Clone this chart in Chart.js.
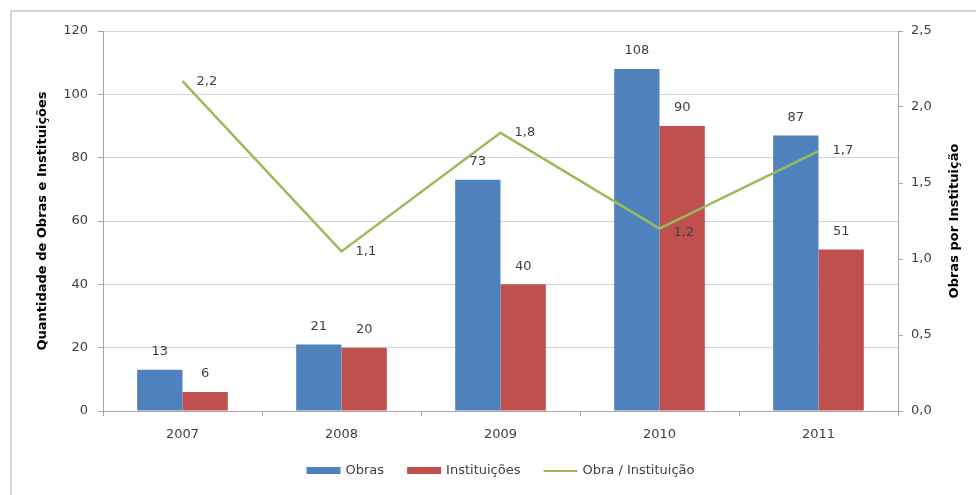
<!DOCTYPE html>
<html><head><meta charset="utf-8">
<script src="https://cdn.jsdelivr.net/npm/chart.js@4/dist/chart.umd.min.js"></script>
<style>html,body{margin:0;padding:0;background:#fff;}#wrap{width:976px;height:495px;position:relative;}</style>
</head><body><div id="wrap"><canvas id="c" width="976" height="495"></canvas></div>
<script>
const categories = ['2007','2008','2009','2010','2011'];
const obras = [13, 21, 73, 108, 87];
const instituicoes = [6, 20, 40, 90, 51];
const obraPorInstituicao = [2.17, 1.05, 1.83, 1.2, 1.71];
const ratioLabels = ['2,2','1,1','1,8','1,2','1,7'];
const leftTicks = [0, 20, 40, 60, 80, 100, 120];
const rightTicks = ['0,0','0,5','1,0','1,5','2,0','2,5'];
const leftTitle = 'Quantidade de Obras e Instituições';
const rightTitle = 'Obras por Instituição';

const FONT = 'DejaVu Sans';
const TXT = '#404040';
const BLUE = '#4F81BD', RED = '#C0504D', GREEN = '#9BBB59';

const PLOT = {left:103, right:898, top:31, bottom:411};

const decor = {
  id:'decor',
  beforeDraw(chart){
    const ctx = chart.ctx;
    ctx.save();
    ctx.fillStyle='#fff'; ctx.fillRect(0,0,chart.width,chart.height);
    ctx.strokeStyle='#c8c8c8'; ctx.lineWidth=1.5;
    ctx.beginPath(); ctx.moveTo(11,chart.height+5); ctx.lineTo(11,11); ctx.lineTo(chart.width+5,11); ctx.stroke();
    ctx.restore();
  },
  afterDatasetsDraw(chart){
    const ctx = chart.ctx;
    ctx.save();
    ctx.font = '13px "'+FONT+'"';
    ctx.fillStyle = TXT;
    // bar labels
    [0,1].forEach(di=>{
      const meta = chart.getDatasetMeta(di);
      meta.data.forEach((el,i)=>{
        ctx.textAlign='center'; ctx.textBaseline='middle';
        ctx.fillText(String(chart.data.datasets[di].data[i]), el.x, el.y-18);
      });
    });
    // line labels
    const lm = chart.getDatasetMeta(2);
    lm.data.forEach((el,i)=>{
      ctx.textAlign='left'; ctx.textBaseline='middle';
      const dy = i===3 ? 4 : 0;
      ctx.fillText(ratioLabels[i], el.x+14, el.y+dy);
    });
    // axis titles
    ctx.font = 'bold 13px "'+FONT+'"';
    ctx.fillStyle = '#000';
    ctx.textAlign='center'; ctx.textBaseline='middle';
    const ca = chart.chartArea;
    const cy = (ca.top+ca.bottom)/2;
    ctx.save(); ctx.translate(43, cy); ctx.rotate(-Math.PI/2); ctx.fillText(leftTitle,0,0); ctx.restore();
    ctx.save(); ctx.translate(955, cy); ctx.rotate(-Math.PI/2); ctx.fillText(rightTitle,0,0); ctx.restore();
    // legend
    ctx.font = '13px "'+FONT+'"';
    ctx.fillStyle = TXT;
    const items = chart.data.datasets.map(d=>({label:d.label,color:d.borderColor||d.backgroundColor,type:d.type||'bar'}));
    const boxW=34, gap=5, spacing=23;
    let total=0;
    items.forEach((it,k)=>{ it.w = boxW+gap+ctx.measureText(it.label).width; total+=it.w+(k?spacing:0); });
    let x = (ca.left+ca.right)/2 - total/2;
    const ly = 471;
    items.forEach(it=>{
      if(it.type==='line'){ ctx.strokeStyle=it.color; ctx.lineWidth=2; ctx.beginPath(); ctx.moveTo(x,ly); ctx.lineTo(x+boxW,ly); ctx.stroke(); }
      else { ctx.fillStyle=it.color; ctx.fillRect(x,ly-4,boxW,7); }
      ctx.fillStyle=TXT; ctx.textAlign='left'; ctx.textBaseline='middle';
      ctx.fillText(it.label, x+boxW+gap, ly);
      x += it.w+spacing;
    });
    ctx.restore();
  }
};

new Chart(document.getElementById('c'), {
  data:{
    labels: categories,
    datasets:[
      {type:'bar', label:'Obras', data:obras, backgroundColor:BLUE, borderColor:BLUE, yAxisID:'y', order:2, categoryPercentage:0.57, barPercentage:1},
      {type:'bar', label:'Instituições', data:instituicoes, backgroundColor:RED, borderColor:RED, yAxisID:'y', order:2, categoryPercentage:0.57, barPercentage:1},
      {type:'line', label:'Obra / Instituição', data:obraPorInstituicao, borderColor:GREEN, backgroundColor:GREEN, borderWidth:2.5, pointRadius:0, tension:0, yAxisID:'y1', order:1}
    ]
  },
  options:{
    responsive:false, animation:false,
    layout:{padding:{top:PLOT.top, left:0, right:0, bottom:0}},
    plugins:{legend:{display:false}, tooltip:{enabled:false}, title:{display:false}},
    scales:{
      x:{
        offset:true,
        grid:{offset:true, drawOnChartArea:false, drawTicks:true, tickLength:5, color:'#a6a6a6'},
        border:{display:true, color:'#a6a6a6'},
        ticks:{color:TXT, font:{family:FONT, size:13}, padding:11, maxRotation:0},
        afterFit(s){ s.height = 495-PLOT.bottom; }
      },
      y:{
        position:'left', min:0, max:120,
        afterBuildTicks(s){ s.ticks = leftTicks.map(v=>({value:v})); },
        grid:{color:'#d4d4d4', tickLength:5, tickColor:'#a6a6a6'},
        border:{display:true, color:'#a6a6a6'},
        ticks:{color:TXT, font:{family:FONT, size:13}, padding:10},
        afterFit(s){ s.width = PLOT.left; }
      },
      y1:{
        position:'right', min:0, max:2.5,
        afterBuildTicks(s){ s.ticks = rightTicks.map((t,i)=>({value:i*0.5})); },
        grid:{drawOnChartArea:false, tickLength:5, color:'#a6a6a6'},
        border:{display:true, color:'#a6a6a6'},
        ticks:{color:TXT, font:{family:FONT, size:13}, padding:8, callback:(v,i)=>rightTicks[i]},
        afterFit(s){ s.width = 976-PLOT.right; }
      }
    }
  },
  plugins:[decor]
});
</script></body></html>
